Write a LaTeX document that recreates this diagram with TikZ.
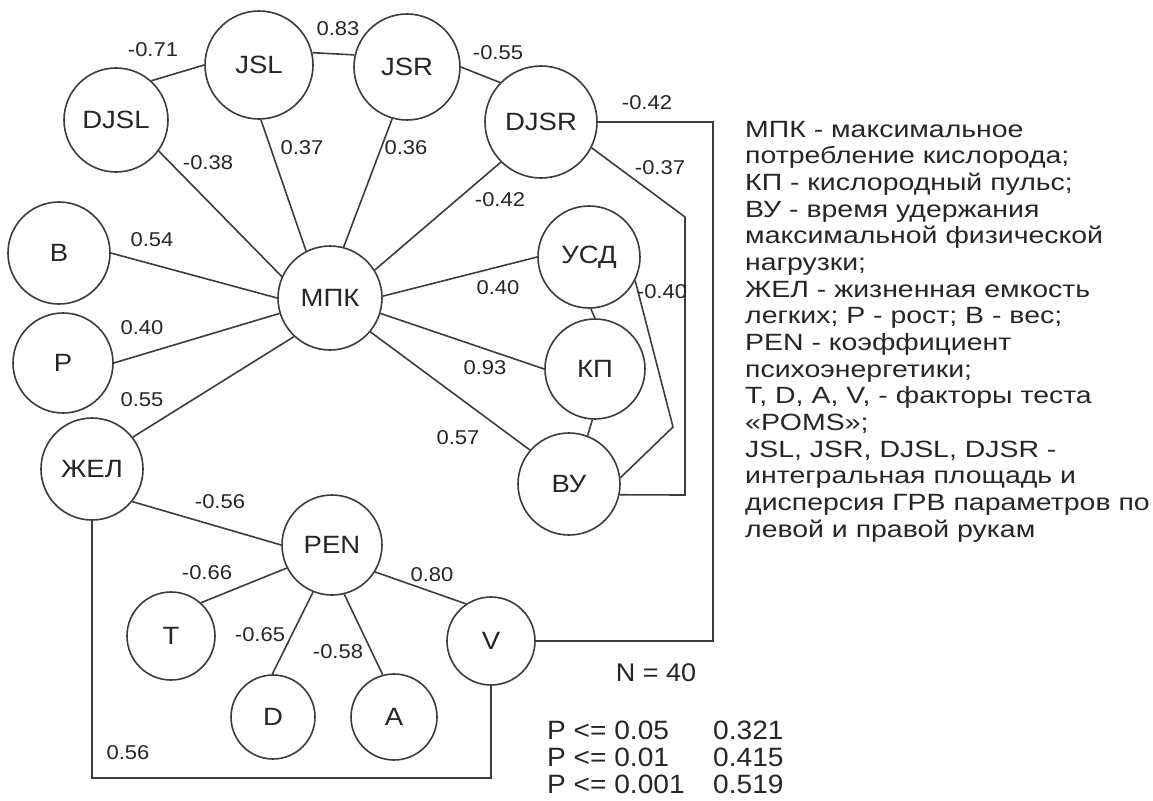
\documentclass[tikz,border=0pt]{standalone}
\usepackage{fontspec}
\setmainfont{Liberation Sans}
\newfontfamily\wa{Liberation Sans}[FakeStretch=1.1]
\newfontfamily\wb{Liberation Sans}[FakeStretch=1.21]
\newfontfamily\wc{Liberation Sans}[FakeStretch=1.06]
\definecolor{ink}{HTML}{262626}
\definecolor{edge}{HTML}{3C3C3C}
\tikzset{
  x=1pt, y=-1pt,
  vnode/.style={circle, draw=edge, line width=1.6pt, inner sep=0pt, text=ink,
    font=\wa\fontsize{25}{30}\selectfont},
  conn/.style={draw=edge, line width=1.6pt},
  lab/.style={text=ink, inner sep=0pt, font=\wa\fontsize{20}{24}\selectfont},
  leg/.style={text=ink, inner sep=0pt, anchor=base west, font=\wb\fontsize{23.5}{26}\selectfont},
  tab/.style={text=ink, inner sep=0pt, anchor=base west, text height=19pt, text depth=1pt,
    font=\wc\fontsize{26.5}{28}\selectfont},
}
\begin{document}
\begin{tikzpicture}
\useasboundingbox[fill=white] (0,0) rectangle (1153,800);
% nodes
\node[vnode, minimum size=108pt] (jsl) at (259,65) {JSL};
\node[vnode, minimum size=106pt] (jsr) at (407,67) {JSR};
\node[vnode, minimum size=104pt] (djsl) at (116,120) {DJSL};
\node[vnode, minimum size=112pt] (djsr) at (541,122) {DJSR};
\node[vnode, minimum size=102pt] (b) at (59,253) {В};
\node[vnode, minimum size=100pt] (p) at (63,363) {Р};
\node[vnode, minimum size=104pt] (mpk) at (330,298) {МПК};
\node[vnode, minimum size=102pt] (zhel) at (92,469) {ЖЕЛ};
\node[vnode, minimum size=102pt] (usd) at (589,257) {УСД};
\node[vnode, minimum size=100pt] (kp) at (595,369) {КП};
\node[vnode, minimum size=102pt] (vu) at (569,484) {ВУ};
\node[vnode, minimum size=100pt] (pen) at (332,545) {PEN};
\node[vnode, minimum size=88pt] (t) at (171,636) {T};
\node[vnode, minimum size=84pt] (d) at (273,717) {D};
\node[vnode, minimum size=86pt] (a) at (394,717) {A};
\node[vnode, minimum size=88pt] (v) at (491,641) {V};
% helper coordinates
\coordinate (k1) at (713,122);
\coordinate (k3) at (685,217);
\coordinate (k4) at (685,495);
\coordinate (k5) at (673,427);
\coordinate (k6) at (92,778);
% connectors
\path[conn] (djsl.48) -- (jsl.180);
\path[conn] (jsl.13) -- (jsr.167);
\path[conn] (jsr.0) -- (djsr.136);
\path[conn] (djsl.-36) -- (mpk.156);
\path[conn] (jsl.-88) -- (mpk.117);
\path[conn] (jsr.-106) -- (mpk.75);
\path[conn] (djsr.-135) -- (mpk.32);
\path[conn] (b.0) -- (mpk.180);
\path[conn] (p.0) -- (mpk.-163);
\path[conn] (zhel.38) -- (mpk.-133);
\path[conn] (mpk.2) -- (usd.180);
\path[conn] (mpk.-17) -- (kp.180);
\path[conn] (mpk.-40) -- (vu.139);
\path[conn] (usd.-88) -- (kp.90);
\path[conn] (kp.-93) -- (vu.69);
\path[conn] (usd.-27) -- (k5) -- (vu.7);
\path[conn] (djsr.-27) -- (k3) -- (k4) -- (vu.-12);
\path[conn] (djsr.east) -- (k1) |- (v.east);
\path[conn] (zhel.-39) -- (pen.180);
\path[conn] (pen.-153) -- (t.48);
\path[conn] (pen.-112) -- (d.91);
\path[conn] (pen.-76) -- (a.105);
\path[conn] (pen.-32) -- (v.124);
\path[conn] (zhel.south) -- (k6) -| (v.south);
% edge labels
\node[lab] (e1) at (153,50) {-0.71};
\node[lab] (e2) at (338,29) {0.83};
\node[lab] (e3) at (498,53) {-0.55};
\node[lab] (e4) at (208,163) {-0.38};
\node[lab] (e5) at (302,148) {0.37};
\node[lab] (e6) at (406,148) {0.36};
\node[lab] (e7) at (500,200) {-0.42};
\node[lab] (e8) at (647,103) {-0.42};
\node[lab] (e9) at (660,168) {-0.37};
\node[lab] (e10) at (152,240) {0.54};
\node[lab] (e11) at (142,328) {0.40};
\node[lab] (e12) at (142,400) {0.55};
\node[lab] (e13) at (498,288) {0.40};
\node[lab] (e14) at (485,368) {0.93};
\node[lab] (e15) at (458,438) {0.57};
\node[lab] (e16) at (662,292) {-0.40};
\node[lab] (e17) at (220,502) {-0.56};
\node[lab] (e18) at (207,573) {-0.66};
\node[lab] (e19) at (260,635) {-0.65};
\node[lab] (e20) at (338,652) {-0.58};
\node[lab] (e21) at (432,575) {0.80};
\node[lab] (e22) at (128,753) {0.56};
% N and table
\node[text=ink, inner sep=0pt, font=\wc\fontsize{25.5}{28}\selectfont] (nn) at (656,673) {N = 40};
\node[tab] (t1) at (547,739) {P <= 0.05};
\node[tab] (t2) at (547,766) {P <= 0.01};
\node[tab] (t3) at (547,793) {P <= 0.001};
\node[tab] (v1) at (713,739) {0.321};
\node[tab] (v2) at (713,766) {0.415};
\node[tab] (v3) at (713,793) {0.519};
% legend
\node[leg] (l1) at (745,137.0) {МПК - максимальное};
\node[leg] (l2) at (745,163.7) {потребление кислорода;};
\node[leg] (l3) at (745,190.3) {КП - кислородный пульс;};
\node[leg] (l4) at (745,217.0) {ВУ - время удержания};
\node[leg] (l5) at (745,243.7) {максимальной физической};
\node[leg] (l6) at (745,270.3) {нагрузки;};
\node[leg] (l7) at (745,297.0) {ЖЕЛ - жизненная емкость};
\node[leg] (l8) at (745,323.7) {легких; Р - рост; В - вес;};
\node[leg] (l9) at (745,350.3) {PEN - коэффициент};
\node[leg] (l10) at (745,377.0) {психоэнергетики;};
\node[leg] (l11) at (745,403.7) {T, D, A, V, - факторы теста};
\node[leg] (l12) at (745,430.3) {«POMS»;};
\node[leg] (l13) at (745,457.0) {JSL, JSR, DJSL, DJSR -};
\node[leg] (l14) at (745,483.7) {интегральная площадь и};
\node[leg] (l15) at (745,510.3) {дисперсия ГРВ параметров по};
\node[leg] (l16) at (745,537.0) {левой и правой рукам};
\end{tikzpicture}
\end{document}
